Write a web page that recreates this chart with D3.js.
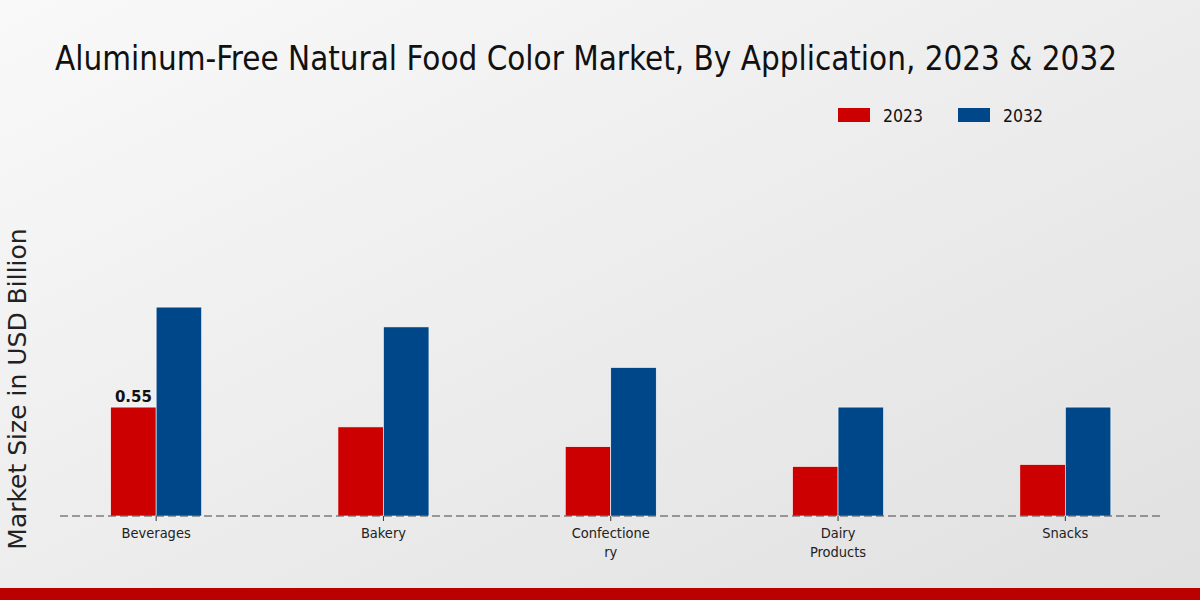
<!DOCTYPE html>
<html>
<head>
<meta charset="utf-8">
<script src="https://cdn.jsdelivr.net/npm/d3@7"></script>
<style>
  body { margin: 0; }
  svg { display: block; }
</style>
</head>
<body>
<div id="container"></div>
<script>
const categories = ["Beverages", "Bakery", "Confectionery", "Dairy Products", "Snacks"];
const tickLabels = [["Beverages"], ["Bakery"], ["Confectione", "ry"], ["Dairy", "Products"], ["Snacks"]];
const series = ["2023", "2032"];
const values2023 = [0.55, 0.45, 0.35, 0.25, 0.26];
const values2032 = [1.055, 0.955, 0.75, 0.55, 0.55];
const colors = ["#cc0000", "#00478a"];

const width = 1200, height = 600;
const baseY = 516;

const svg = d3.select("#container").append("svg")
    .attr("width", width).attr("height", height);

// background gradient
const defs = svg.append("defs");
const grad = defs.append("linearGradient").attr("id", "bg")
    .attr("x1", "0%").attr("y1", "0%").attr("x2", "100%").attr("y2", "100%");
grad.append("stop").attr("offset", "0%").attr("stop-color", "#f9f9f9");
grad.append("stop").attr("offset", "100%").attr("stop-color", "#e0e0e0");
svg.append("rect").attr("width", width).attr("height", height).attr("fill", "url(#bg)");

// bottom red band
svg.append("rect").attr("x", 0).attr("y", 588).attr("width", width).attr("height", 12)
    .attr("fill", "#bb0000");

const x = d3.scaleBand().domain(categories).range([42.5, 1179]);
const y = d3.scaleLinear().domain([0, 1]).range([baseY, baseY - 198]);
const barW = 45.5;

// title
svg.append("text")
    .attr("x", 55).attr("y", 70)
    .attr("font-family", "DejaVu Sans Condensed")
    .attr("font-size", 34)
    .attr("textLength", 1062)
    .attr("lengthAdjust", "spacingAndGlyphs")
    .attr("fill", "#111")
    .text("Aluminum-Free Natural Food Color Market, By Application, 2023 & 2032");

// legend
const legend = svg.append("g");
series.forEach((s, i) => {
  const lx = 838 + i * 120;
  legend.append("rect").attr("x", lx).attr("y", 108).attr("width", 32).attr("height", 14)
      .attr("fill", colors[i]);
  legend.append("text").attr("x", lx + 45).attr("y", 122)
      .attr("font-family", "DejaVu Sans Condensed").attr("font-size", 18)
      .attr("textLength", 40).attr("lengthAdjust", "spacingAndGlyphs")
      .attr("fill", "#111").text(s);
});

// y label
svg.append("text")
    .attr("transform", `translate(26,389) rotate(-90)`)
    .attr("text-anchor", "middle")
    .attr("font-family", "DejaVu Sans")
    .attr("font-size", 25)
    .attr("fill", "#222")
    .text("Market Size in USD Billion");

// bars
const data = categories.map((c, i) => ({c, v: [values2023[i], values2032[i]]}));
const groups = svg.append("g").selectAll("g").data(data).join("g")
    .attr("transform", d => `translate(${x(d.c) + x.bandwidth() / 2},0)`);

groups.selectAll("rect")
  .data(d => d.v.map((v, i) => ({v, i})))
  .join("rect")
    .attr("x", d => d.i === 0 ? -barW : 0)
    .attr("y", d => y(d.v))
    .attr("width", barW)
    .attr("height", d => y(0) - y(d.v))
    .attr("fill", d => colors[d.i])
    .attr("stroke", "#ffffff")
    .attr("stroke-width", 0.6);

// value label on first bar
svg.append("text")
    .attr("x", x(categories[0]) + x.bandwidth() / 2 - barW / 2)
    .attr("y", y(values2023[0]) - 5)
    .attr("text-anchor", "middle")
    .attr("font-family", "DejaVu Sans")
    .attr("font-weight", "bold")
    .attr("font-size", 15)
    .attr("fill", "#111")
    .text(values2023[0].toFixed(2));

// baseline dashed
svg.append("line")
    .attr("x1", 60).attr("x2", 1160)
    .attr("y1", baseY).attr("y2", baseY)
    .attr("stroke", "#444").attr("stroke-width", 1.2)
    .attr("stroke-dasharray", "8,4");

// ticks and labels
const ticks = svg.append("g");
categories.forEach((c, i) => {
  const cx = x(c) + x.bandwidth() / 2;
  ticks.append("line").attr("x1", cx).attr("x2", cx).attr("y1", baseY).attr("y2", baseY + 5)
      .attr("stroke", "#333");
  const t = ticks.append("text").attr("x", cx).attr("y", 538)
      .attr("text-anchor", "middle")
      .attr("font-family", "DejaVu Sans Condensed")
      .attr("font-size", 14.5)
      .attr("fill", "#222");
  tickLabels[i].forEach((line, j) => {
    t.append("tspan").attr("x", cx).attr("dy", j === 0 ? 0 : 19).text(line);
  });
});
</script>
</body>
</html>
